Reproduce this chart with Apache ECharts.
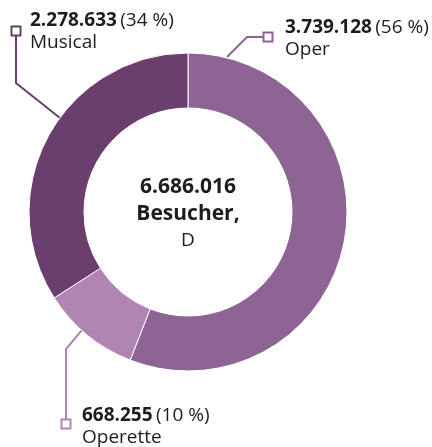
<!DOCTYPE html>
<html>
<head>
<meta charset="utf-8">
<script src="https://cdn.jsdelivr.net/npm/echarts@6/dist/echarts.min.js"></script>
<style>
  html, body { margin: 0; padding: 0; background: #fff; }
  #chart { width: 432px; height: 447px; }
</style>
</head>
<body>
<div id="chart"></div>
<script>
// Besucher nach Sparte
const categories = ['Oper', 'Operette', 'Musical'];
const visitors = [3739128, 668255, 2278633];
const centerCaption = ['Besucher,', 'D'];

const sliceColors = ['#8e6494', '#b085b2', '#6a3f6d'];
// leader lines: start at the ring, bend, end at the marker
const leaderLines = [
    [[227, 57], [247, 37], [268, 37]],
    [[82, 330], [66, 349], [66, 424]],
    [[60, 118], [16, 83], [16, 31]]
];
const labelPos = [[285, 17], [82, 405], [30, 10]];

function fmt(n) {
    return String(n).replace(/\B(?=(\d{3})+(?!\d))/g, '.');
}

const total = visitors.reduce((a, b) => a + b, 0);
const FONT = '"Open Sans", "Noto Sans", sans-serif';
const TEXT = '#1d1d1b';

const myChart = echarts.init(document.getElementById('chart'));

const option = {
    animation: false,
    title: {
        text: '{b|' + fmt(total) + '}\n{b|' + centerCaption[0] + '}\n{r|' + centerCaption[1] + '}',
        left: 188,
        top: 174,
        textAlign: 'center',
        padding: 0,
        textStyle: {
            rich: {
                b: { fontFamily: FONT, fontSize: 21, fontWeight: 'bold', color: TEXT, lineHeight: 26.5 },
                r: { fontFamily: FONT, fontSize: 19, fontWeight: 'normal', color: TEXT, lineHeight: 26.5 }
            }
        }
    },
    series: [{
        type: 'pie',
        center: [188, 212],
        radius: [104, 159],
        startAngle: 90,
        clockwise: true,
        avoidLabelOverlap: false,
        percentPrecision: 0,
        data: categories.map((name, i) => ({
            name: name,
            value: visitors[i],
            itemStyle: { color: sliceColors[i] }
        })),
        itemStyle: {
            borderColor: '#fff',
            borderWidth: 1
        },
        emphasis: { disabled: true },
        label: {
            show: true,
            position: 'outside',
            formatter: function (p) {
                return '{b|' + fmt(p.value) + '} {r|(' + Math.round(p.percent) + ' %)}\n{r|' + p.name + '}';
            },
            rich: {
                b: { fontFamily: FONT, fontSize: 19, fontWeight: 'bold', color: TEXT, lineHeight: 22 },
                r: { fontFamily: FONT, fontSize: 19, fontWeight: 'normal', color: TEXT, lineHeight: 22 }
            }
        },
        labelLine: {
            show: true,
            length: 15,
            length2: 15,
            lineStyle: { width: 2 }
        },
        labelLayout: function (params) {
            const i = params.dataIndex;
            return {
                x: labelPos[i][0],
                y: labelPos[i][1],
                align: 'left',
                verticalAlign: 'top',
                labelLinePoints: leaderLines[i]
            };
        }
    }],
    graphic: leaderLines.map((pts, i) => {
        const end = pts[pts.length - 1];
        return {
            type: 'rect',
            z: 100,
            shape: { x: end[0] - 4.5, y: end[1] - 4.5, width: 9, height: 9 },
            style: { fill: '#fff', stroke: sliceColors[i], lineWidth: 2 }
        };
    })
};

myChart.setOption(option);
window.addEventListener('resize', () => myChart.resize());
</script>
</body>
</html>
